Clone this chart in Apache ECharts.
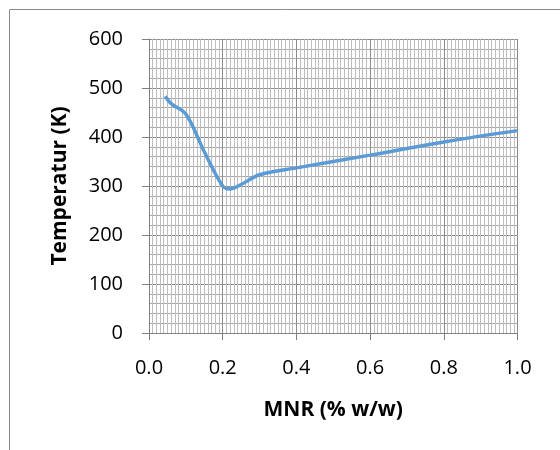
<!DOCTYPE html>
<html lang="en">
<head>
    <meta charset="UTF-8">
    <title>MNR vs Temperatur</title>
    <script src="https://cdn.jsdelivr.net/npm/echarts@6/dist/echarts.min.js"></script>
    <style>
        body { margin: 0; background: #fff; }
        #chart { width: 560px; height: 450px; }
    </style>
</head>
<body>
<div id="chart"></div>

<script>
    // data
    var mnr = [0.044, 0.06, 0.1, 0.15, 0.2, 0.22, 0.25, 0.3, 0.4, 0.6, 0.8, 1.0];
    var temp = [483, 468, 447, 370, 300, 294, 303, 323, 337, 363, 390, 413];
    var xTicks = [0.0, 0.2, 0.4, 0.6, 0.8, 1.0];
    var yTicks = [0, 100, 200, 300, 400, 500, 600];

    var points = mnr.map(function (x, i) { return [x, temp[i]]; });

    var chart = echarts.init(document.getElementById('chart'));
    var font = '"Open Sans", sans-serif';

    var option = {
        animation: false,
        grid: { left: 149, top: 39, right: 42.5, bottom: 117 },
        graphic: [{
            type: 'rect',
            shape: { x: 9.5, y: 9.5, width: 600, height: 500 },
            style: { fill: 'none', stroke: '#898989', lineWidth: 1 },
            silent: true
        }],
        xAxis: {
            type: 'value',
            min: xTicks[0],
            max: xTicks[xTicks.length - 1],
            interval: 0.2,
            name: 'MNR (% w/w)',
            nameLocation: 'middle',
            nameGap: 67,
            nameTextStyle: { fontFamily: font, fontWeight: 'bold', fontSize: 21, color: '#000' },
            axisLine: { lineStyle: { color: '#7f7f7f', width: 1 } },
            axisTick: { show: true, length: 7, lineStyle: { color: '#7f7f7f', width: 1 } },
            axisLabel: {
                margin: 25, fontFamily: font, fontSize: 20, color: '#000',
                formatter: function (v) { return v.toFixed(1); }
            },
            splitLine: { show: true, lineStyle: { color: '#8c8c8c', width: 1 } },
            minorTick: { show: false, splitNumber: 20 },
            minorSplitLine: { show: true, lineStyle: { color: '#bdbdbd', width: 1 } }
        },
        yAxis: {
            type: 'value',
            min: yTicks[0],
            max: yTicks[yTicks.length - 1],
            interval: 100,
            name: 'Temperatur (K)',
            nameLocation: 'middle',
            nameGap: 78,
            nameTextStyle: { fontFamily: font, fontWeight: 'bold', fontSize: 21, color: '#000' },
            axisLine: { show: true, lineStyle: { color: '#7f7f7f', width: 1 } },
            axisTick: { show: true, length: 7, lineStyle: { color: '#7f7f7f', width: 1 } },
            axisLabel: { margin: 26, fontFamily: font, fontSize: 20, color: '#000' },
            splitLine: { show: true, lineStyle: { color: '#8c8c8c', width: 1 } },
            minorTick: { show: false, splitNumber: 5 },
            minorSplitLine: { show: true, lineStyle: { color: '#a8a8a8', width: 1 } }
        },
        series: [{
            type: 'line',
            data: points,
            smooth: 0.35,
            showSymbol: false,
            lineStyle: { color: '#5B9BD5', width: 3.5 },
            z: 5
        }]
    };

    chart.setOption(option);
</script>
</body>
</html>
